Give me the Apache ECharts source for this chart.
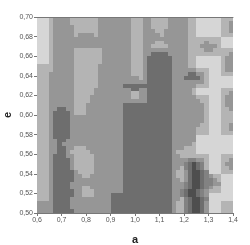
<!DOCTYPE html>
<html><head><meta charset="utf-8">
<style>html,body{margin:0;padding:0;background:#fff}#c{width:250px;height:245px}</style>
<script src="https://cdn.jsdelivr.net/npm/echarts@6/dist/echarts.min.js"></script>
</head><body><div id="c"></div>
<script>
// contour band per cell (top row first); 6 columns per 0.1 of a, 5 rows per 0.02 of e
const levelRows = [
"111233 332222 222333 333332 223322 223333 322111 111222",
"111233 332222 222333 333332 223322 223333 322111 111223",
"111233 333222 222333 333332 223322 223333 322111 111223",
"111233 333222 222333 333332 223332 233333 322111 111223",
"111233 333233 332333 333332 223333 233333 322111 111222",
"111233 333333 333333 333332 223333 333333 322222 222111",
"111233 333333 333333 333332 223332 233333 322223 222111",
"111233 333333 333333 333332 223322 223333 322233 332111",
"111233 333222 222233 333332 223333 333333 322223 322222",
"111233 333222 222233 333332 223344 443333 322222 222223",
"111233 333222 222233 333332 223444 444333 322111 111233",
"111233 333222 222233 333332 223444 444333 322111 111233",
"222233 333222 222333 333332 223444 444333 322111 111233",
"222233 333222 222333 333332 223444 444333 333222 111233",
"222333 333222 222333 333332 223444 444333 344332 111222",
"222333 333222 222333 333333 323444 444333 444432 111111",
"222333 333222 222333 333333 333444 444333 333332 111111",
"222333 333222 222333 333444 444444 444333 333222 111111",
"222333 333222 223333 333334 433444 444333 332111 111222",
"222333 333222 223333 333332 233444 444333 332111 111223",
"222333 333222 233333 333332 233444 444333 333222 111233",
"222333 333222 233333 333333 333444 444333 333322 111233",
"222333 333222 333333 333444 444444 444333 333332 111233",
"222334 433222 333333 333444 444444 444333 333332 111223",
"222344 443222 333333 333444 444444 444333 333332 111222",
"222344 443333 333333 333444 444444 444333 333332 111222",
"222344 443333 333333 333444 444444 444333 333332 111222",
"222344 443333 333333 333444 444444 444333 333322 111223",
"222344 443333 333333 333444 444444 444333 333222 111223",
"222344 443333 333333 333444 444444 444333 333222 111222",
"222344 443333 333333 333444 444444 444333 333111 111111",
"222334 433333 333333 333444 444444 444333 333111 111111",
"222334 333333 333333 333444 444444 444333 332111 111111",
"222334 433222 333333 333444 444444 444333 222111 111111",
"222334 432222 233333 333444 444444 444322 222111 111111",
"222344 433222 223333 333444 444444 444332 222222 111222",
"222344 443222 223333 333444 444444 444333 366332 111223",
"222344 443222 223333 333444 444444 444333 645462 111233",
"222344 443222 223333 333444 444444 444332 645462 111223",
"222344 444322 223333 333444 444444 444322 345546 111222",
"222344 444332 233333 333444 444444 444322 345546 322111",
"222344 444333 333333 333444 444444 444332 345546 632111",
"222344 443333 333333 333444 444444 444333 645546 633111",
"222344 443332 233333 333444 444444 444333 645546 322111",
"222344 444332 223333 333444 444444 444336 455463 222111",
"222344 444332 223333 444444 444444 444336 455463 111111",
"222344 443333 333333 444444 444444 444332 645546 111111",
"333344 443333 333333 444444 444444 444322 645543 111222",
"333344 443333 333333 444444 444444 444322 645543 111222",
"333344 444333 333333 444444 444444 444322 645543 111222"
];
const levelColors = {1:'#d6d6d6',2:'#b4b4b4',3:'#969696',6:'#828282',4:'#6e6e6e',5:'#4e4e4e'};
const aRange = [0.6, 1.4];
const eRange = [0.5, 0.7];
const aStep = 0.1;
const eStep = 0.02;

const rows = levelRows.map(r => r.replace(/ /g,''));
const nCols = rows[0].length, nRows = rows.length;
const da = (aRange[1]-aRange[0])/nCols, de = (eRange[1]-eRange[0])/nRows;
const cells = [];
rows.forEach((r,ri) => { for (let ci=0; ci<nCols; ci++)
  cells.push([aRange[0]+ci*da, eRange[1]-ri*de, +r[ci]]); });
const comma = d => v => v.toFixed(d).replace('.',',');
const lab = {color:'#555',fontSize:7,fontFamily:'Liberation Sans',margin:4};
const tick = {show:true,length:3,lineStyle:{color:'#777',width:1}};
const nameStyle = {fontSize:11,fontWeight:'bold',color:'#222',fontFamily:'Liberation Sans'};
const chart = echarts.init(document.getElementById('c'),null,{renderer:'canvas'});
chart.setOption({
  animation:false,
  grid:{left:37,top:17,width:196,height:196,outerBoundsMode:'none',containLabel:false},
  xAxis:[
    {type:'value',min:aRange[0],max:aRange[1],interval:aStep,position:'bottom',z:5,
      axisLine:{show:true,onZero:false,lineStyle:{color:'#777'}},axisTick:tick,splitLine:{show:false},
      axisLabel:{...lab,formatter:comma(1)},
      name:'a',nameLocation:'middle',nameGap:21,nameMoveOverlap:false,nameTextStyle:nameStyle},
    {type:'value',min:aRange[0],max:aRange[1],interval:aStep,position:'top',z:5,
      axisLine:{show:true,onZero:false,lineStyle:{color:'#777'}},axisTick:{show:false},axisLabel:{show:false},splitLine:{show:false}}
  ],
  yAxis:[
    {type:'value',min:eRange[0],max:eRange[1],interval:eStep,position:'left',
      axisLine:{show:false},axisTick:tick,splitLine:{show:false},
      axisLabel:{...lab,formatter:comma(2)},
      name:'e',nameLocation:'middle',nameGap:24,nameMoveOverlap:false,nameTextStyle:nameStyle}
  ],
  series:[{type:'custom',xAxisIndex:0,yAxisIndex:0,data:cells,encode:{x:0,y:1},silent:true,
    renderItem:(params,api)=>{
      const p0 = api.coord([api.value(0), api.value(1)]);
      const p1 = api.coord([api.value(0)+da, api.value(1)-de]);
      const x0 = Math.round(p0[0]), y0 = Math.round(p0[1]);
      return {type:'rect',shape:{x:x0,y:y0,width:Math.round(p1[0])-x0,height:Math.round(p1[1])-y0},
        style:{fill:levelColors[api.value(2)]}};
    }}]
});
</script></body></html>
